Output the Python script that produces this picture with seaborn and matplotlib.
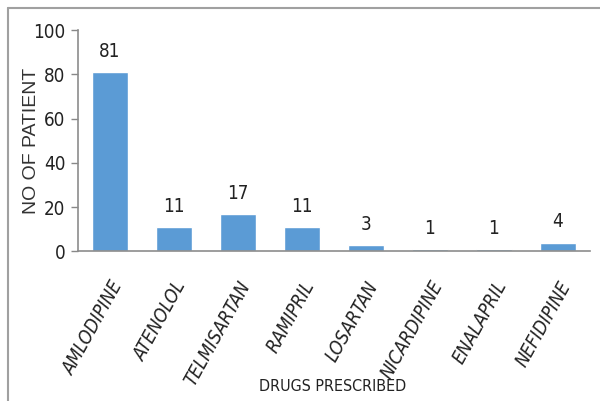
import matplotlib
matplotlib.use("Agg")
import matplotlib.pyplot as plt
import seaborn as sns
import pandas as pd
from matplotlib.lines import Line2D

drugs = ["AMLODIPINE", "ATENOLOL", "TELMISARTAN", "RAMIPRIL", "LOSARTAN",
         "NICARDIPINE", "ENALAPRIL", "NEFIDIPINE"]
patients = [81, 11, 17, 11, 3, 1, 1, 4]
y_ticks = [0, 20, 40, 60, 80, 100]

df = pd.DataFrame({"drug": drugs, "patients": patients})

sns.set_theme(style="white")
plt.rcParams["font.family"] = ["Lato", "DejaVu Sans"]

fig = plt.figure(figsize=(6.0, 4.01), dpi=100)
ax = fig.add_axes([0.13, 0.373, 0.853, 0.552])

sns.barplot(data=df, x="drug", y="patients", color="#5b9bd5", width=0.57,
            saturation=1, ax=ax)

ax.set_ylim(0, 100)
ax.set_xlim(-0.5, len(drugs) - 0.5)
ax.set_yticks(y_ticks)
ax.set_yticklabels([str(t) for t in y_ticks], fontsize=13.5, family="DejaVu Sans",
                   stretch="condensed", color="#222222")
ax.tick_params(axis="y", length=5, width=1, color="#888888", left=True, pad=4)
ax.tick_params(axis="x", length=0, pad=19)
ax.set_xticks(range(len(drugs)))
ax.set_xticklabels(drugs, rotation=61, ha="right", rotation_mode="anchor",
                   fontsize=13.5, style="oblique", family="DejaVu Sans",
                   stretch="condensed", color="#222222")

for s in ["top", "right"]:
    ax.spines[s].set_visible(False)
for s in ["left", "bottom"]:
    ax.spines[s].set_color("#8c8c8c")
    ax.spines[s].set_linewidth(1.2)

for c in ax.containers:
    ax.bar_label(c, labels=[str(v) for v in patients], padding=8,
                 fontsize=13.5, family="DejaVu Sans", stretch="condensed",
                 color="#222222")

ax.set_ylabel("NO OF PATIENT", fontsize=14, family="Liberation Sans",
              color="#333333")
ax.yaxis.set_label_coords(-0.075, 0.5)
ax.set_xlabel("")
fig.text(0.555, 0.035, "DRUGS PRESCRIBED", ha="center", va="center",
         fontsize=11.5, family="DejaVu Sans", stretch="condensed", color="#222222")

fig.add_artist(Line2D([8/600, 1.0], [1 - 8/401, 1 - 8/401], color="#a0a0a0", lw=1.5,
                      transform=fig.transFigure))
fig.add_artist(Line2D([8/600, 8/600], [0, 1 - 8/401], color="#a0a0a0", lw=1.5,
                      transform=fig.transFigure))

fig.savefig("out.png", dpi=100)
